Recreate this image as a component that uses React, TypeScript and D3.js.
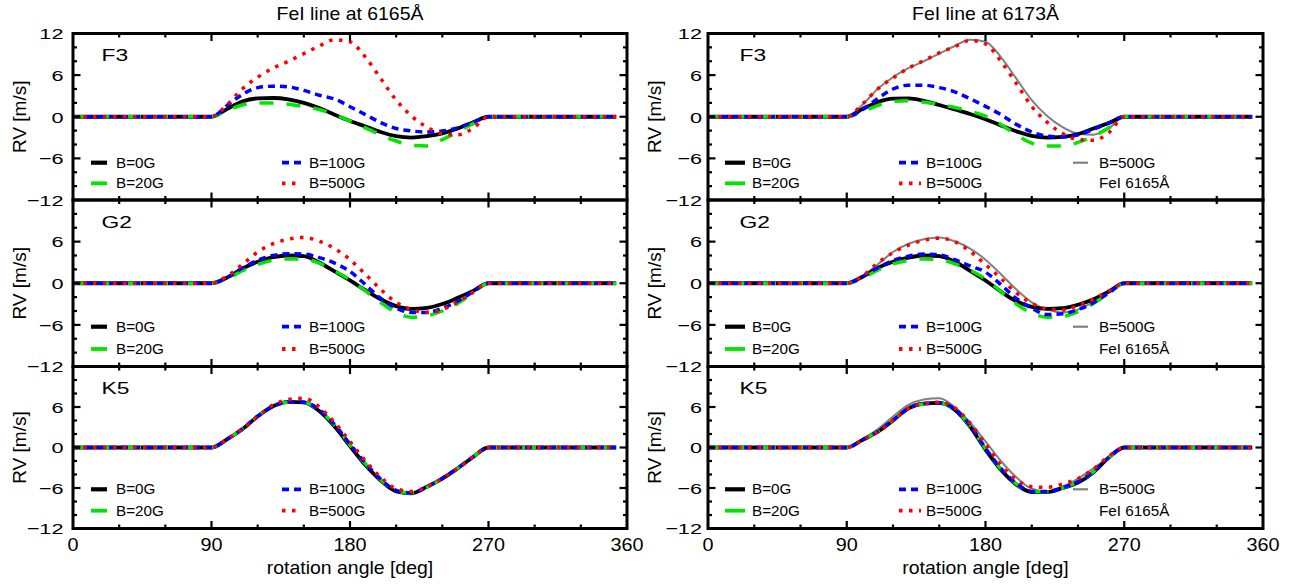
import React from 'react';
import * as d3 from 'd3';

// rotation angle [deg] sample points
const angles = [0, 90, 100, 110, 120, 130, 140, 150, 160, 170, 180, 190, 200, 210, 220, 230, 240, 250, 260, 270, 353];

// ---- FeI line at 6165 Å ----
const f3_6165_b0 = [0, 0, 1.1, 2.2, 2.65, 2.7, 2.5, 2.0, 1.25, 0.3, -0.6, -1.4, -2.2, -2.8, -3.0, -2.8, -2.4, -1.7, -0.8, 0, 0];
const f3_6165_b20 = [0, 0, 0.9, 1.7, 2.0, 2.0, 1.8, 1.45, 1.05, 0.3, -0.6, -1.6, -2.6, -3.5, -4.1, -4.2, -3.3, -2.2, -1.0, 0, 0];
const f3_6165_b100 = [0, 0, 1.6, 3.2, 4.2, 4.4, 4.3, 3.8, 3.1, 2.55, 1.45, 0.3, -0.85, -1.7, -2.05, -2.2, -2.05, -1.6, -0.8, 0, 0];
const f3_6165_b500 = [0, 0, 1.7, 4.0, 5.7, 7.0, 8.0, 9.1, 10.2, 11.1, 10.8, 8.6, 5.5, 2.4, 0.1, -1.5, -2.45, -2.6, -1.65, 0, 0];

const g2_6165_b0 = [0, 0, 0.8, 2.1, 3.1, 3.75, 4.0, 3.9, 3.0, 1.7, 0.4, -1.0, -2.3, -3.3, -3.7, -3.55, -3.0, -2.1, -1.1, 0, 0];
const g2_6165_b20 = [0, 0, 0.6, 1.8, 2.7, 3.3, 3.5, 3.5, 2.9, 1.8, 0.5, -1.1, -2.8, -4.2, -4.9, -4.7, -4.0, -2.9, -1.4, 0, 0];
const g2_6165_b100 = [0, 0, 0.8, 2.2, 3.3, 4.0, 4.25, 4.2, 3.7, 2.9, 1.7, -0.2, -2.2, -3.6, -4.2, -4.2, -3.6, -2.6, -1.2, 0, 0];
const g2_6165_b500 = [0, 0, 1.0, 2.7, 4.5, 5.7, 6.35, 6.6, 6.05, 5.0, 3.4, 1.3, -0.9, -2.75, -3.8, -4.2, -3.8, -2.7, -1.3, 0, 0];

const k5_6165_b0 = [0, 0, 1.2, 2.7, 4.6, 6.1, 6.75, 6.7, 5.4, 3.1, 0.2, -2.6, -4.9, -6.5, -6.8, -5.8, -4.6, -3.1, -1.4, 0, 0];
const k5_6165_b20 = [0, 0, 1.2, 2.75, 4.65, 6.1, 6.7, 6.65, 5.5, 3.3, 0.4, -2.4, -4.8, -6.4, -6.75, -5.9, -4.6, -3.1, -1.4, 0, 0];
const k5_6165_b100 = [0, 0, 1.2, 2.75, 4.65, 6.1, 6.75, 6.7, 5.6, 3.4, 0.5, -2.3, -4.7, -6.35, -6.7, -5.85, -4.55, -3.05, -1.4, 0, 0];
const k5_6165_b500 = [0, 0, 1.2, 2.7, 4.6, 6.3, 7.1, 7.3, 6.0, 3.7, 0.9, -2.0, -4.4, -6.1, -6.5, -5.8, -4.6, -3.1, -1.4, 0, 0];

// ---- FeI line at 6173 Å ----
const f3_6173_b0 = [0, 0, 1.1, 2.1, 2.6, 2.65, 2.3, 1.7, 1.05, 0.4, -0.35, -1.25, -2.1, -2.75, -3.0, -2.9, -2.5, -1.7, -0.9, 0, 0];
const f3_6173_b20 = [0, 0, 0.7, 1.6, 2.2, 2.3, 2.1, 1.8, 1.35, 0.8, 0.1, -1.1, -2.6, -3.8, -4.2, -4.2, -3.7, -2.8, -1.6, 0, 0];
const f3_6173_b100 = [0, 0, 1.0, 2.6, 4.0, 4.55, 4.55, 4.2, 3.6, 2.6, 1.5, 0.3, -1.1, -2.2, -2.8, -2.9, -2.6, -1.8, -0.9, 0, 0];
const f3_6173_b500 = [0, 0, 1.8, 4.0, 5.6, 7.0, 8.1, 9.2, 10.1, 11.0, 10.5, 8.0, 4.8, 1.5, -0.8, -2.4, -3.3, -3.4, -2.3, 0, 0];

const g2_6173_b0 = [0, 0, 0.9, 2.2, 3.1, 3.7, 4.0, 3.9, 3.1, 1.8, 0.4, -1.2, -2.6, -3.4, -3.7, -3.6, -3.1, -2.3, -1.2, 0, 0];
const g2_6173_b20 = [0, 0, 0.7, 1.9, 2.8, 3.3, 3.5, 3.4, 2.8, 1.9, 0.6, -1.2, -3.0, -4.3, -4.9, -4.8, -4.1, -2.9, -1.5, 0, 0];
const g2_6173_b100 = [0, 0, 0.9, 2.2, 3.3, 3.9, 4.2, 4.1, 3.4, 2.5, 1.6, -0.2, -2.2, -3.6, -4.5, -4.4, -3.8, -2.8, -1.4, 0, 0];
const g2_6173_b500 = [0, 0, 1.0, 2.9, 4.4, 5.5, 6.2, 6.5, 6.0, 4.6, 2.7, 0.7, -1.4, -2.9, -3.7, -3.85, -3.2, -2.3, -1.1, 0, 0];

const k5_6173_b0 = [0, 0, 1.1, 2.3, 4.0, 5.8, 6.5, 6.6, 5.6, 3.1, -0.3, -3.3, -5.5, -6.6, -6.6, -6.0, -5.2, -3.7, -1.5, 0, 0];
const k5_6173_b20 = [0, 0, 1.1, 2.35, 4.05, 5.8, 6.45, 6.55, 5.6, 3.2, -0.2, -3.2, -5.4, -6.55, -6.55, -6.0, -5.1, -3.6, -1.5, 0, 0];
const k5_6173_b100 = [0, 0, 1.1, 2.35, 4.05, 5.8, 6.5, 6.6, 5.7, 3.3, -0.1, -3.1, -5.3, -6.5, -6.5, -5.95, -5.05, -3.55, -1.45, 0, 0];
const k5_6173_b500 = [0, 0, 1.1, 2.3, 4.0, 5.8, 6.5, 6.7, 5.9, 3.6, 0.5, -2.6, -4.8, -5.8, -5.9, -5.4, -4.6, -3.2, -1.3, 0, 0];

const columnTitles = ['FeI line at 6165Å', 'FeI line at 6173Å'];
const starTypes = ['F3', 'G2', 'K5'];
const xTickLabels = [0, 90, 180, 270, 360];
const yTickLabels = [-12, -6, 0, 6, 12];
const seriesNames = ['B=0G', 'B=20G', 'B=100G', 'B=500G'];
const referenceNames = ['B=500G', 'FeI 6165Å'];

const data6165 = [
  [f3_6165_b0, f3_6165_b20, f3_6165_b100, f3_6165_b500],
  [g2_6165_b0, g2_6165_b20, g2_6165_b100, g2_6165_b500],
  [k5_6165_b0, k5_6165_b20, k5_6165_b100, k5_6165_b500],
];
const data6173 = [
  [f3_6173_b0, f3_6173_b20, f3_6173_b100, f3_6173_b500],
  [g2_6173_b0, g2_6173_b20, g2_6173_b100, g2_6173_b500],
  [k5_6173_b0, k5_6173_b20, k5_6173_b100, k5_6173_b500],
];

// ---- styling / layout ----
const FONT = '"Liberation Sans", Arial, Helvetica, sans-serif';
const styles = [
  { color: '#000000', width: 3.8, dash: undefined as string | undefined },
  { color: '#00e600', width: 3.5, dash: '14 13' },
  { color: '#0000ff', width: 3.5, dash: '7 5' },
  { color: '#ff0000', width: 3.5, dash: '3.5 6.5' },
];
const grayStyle = { color: '#808080', width: 2 };

const cols = [
  { x0: 73, x1: 627, labelGap: 9.5, legend: [{ s0: 18, s1: 34, t: 43 }, { s0: 209, s1: 229, t: 236 }] },
  { x0: 708, x1: 1263, labelGap: 6, legend: [{ s0: 17, s1: 37, t: 44 }, { s0: 191, s1: 213, t: 218 }, { s0: 365, s1: 380, t: 391 }] },
];
const rows = [
  { top: 33.5, bottom: 200, leg: [162.7, 183.3] },
  { top: 200, bottom: 366.5, leg: [326.7, 349] },
  { top: 366.5, bottom: 528.5, leg: [489.3, 510.7] },
];

function Txt(props: { x: number; y: number; size: number; sx?: number; anchor?: string; rotate?: number; children: React.ReactNode }) {
  const { x, y, size, sx = 1, anchor = 'start', rotate = 0, children } = props;
  return (
    <text
      transform={`translate(${x},${y})${rotate ? ` rotate(${rotate})` : ''} scale(${sx},1)`}
      fontSize={size}
      fontFamily={FONT}
      fontWeight="normal"
      textAnchor={anchor}
      fill="#000"
    >
      {children}
    </text>
  );
}

const fmt = (v: number) => (v < 0 ? '\u2212' + Math.abs(v) : String(v));

function Panel({ c, r }: { c: number; r: number }) {
  const col = cols[c];
  const row = rows[r];
  const x = d3.scaleLinear().domain([0, 360]).range([col.x0, col.x1]);
  const y = d3.scaleLinear().domain([-12, 12]).range([row.bottom, row.top]);
  const line = d3
    .line<number>()
    .x((_d, i) => x(angles[i]))
    .y((d) => y(d))
    .curve(d3.curveMonotoneX);
  const series = c === 0 ? data6165[r] : data6173[r];
  const gray = c === 1 ? data6165[r][3] : null;

  const majorLen = 7.5;
  const minorLen = 4;
  const xt = d3.range(0, 361, 30);
  const yt = d3.range(-12, 13, 2);

  const legendItems: { col: number; row: number; kind: number | 'gray' | 'none'; label: string }[] = [
    { col: 0, row: 0, kind: 0, label: seriesNames[0] },
    { col: 0, row: 1, kind: 1, label: seriesNames[1] },
    { col: 1, row: 0, kind: 2, label: seriesNames[2] },
    { col: 1, row: 1, kind: 3, label: seriesNames[3] },
  ];
  if (c === 1) {
    legendItems.push({ col: 2, row: 0, kind: 'gray', label: referenceNames[0] });
    legendItems.push({ col: 2, row: 1, kind: 'none', label: referenceNames[1] });
  }

  return (
    <g>
      {/* curves */}
      {gray && <path d={line(gray) || ''} fill="none" stroke={grayStyle.color} strokeWidth={grayStyle.width} />}
      {series.map((s, i) => (
        <path
          key={i}
          d={line(s) || ''}
          fill="none"
          stroke={styles[i].color}
          strokeWidth={styles[i].width}
          strokeDasharray={styles[i].dash}
          strokeLinejoin="round"
        />
      ))}

      {/* frame */}
      <rect x={col.x0} y={row.top} width={col.x1 - col.x0} height={row.bottom - row.top} fill="none" stroke="#000" strokeWidth={3} />

      {/* x ticks */}
      {xt.map((t) => {
        const len = t % 90 === 0 ? majorLen : minorLen;
        if (t === 0 || t === 360) return null;
        return (
          <g key={'x' + t}>
            <line x1={x(t)} x2={x(t)} y1={row.bottom} y2={row.bottom - len} stroke="#000" strokeWidth={2.2} />
            <line x1={x(t)} x2={x(t)} y1={row.top} y2={row.top + len} stroke="#000" strokeWidth={2.2} />
          </g>
        );
      })}
      {/* y ticks */}
      {yt.map((t) => {
        const len = t % 6 === 0 ? majorLen : minorLen;
        if (t === -12 || t === 12) return null;
        return (
          <g key={'y' + t}>
            <line x1={col.x0} x2={col.x0 + len} y1={y(t)} y2={y(t)} stroke="#000" strokeWidth={2.2} />
            <line x1={col.x1} x2={col.x1 - len} y1={y(t)} y2={y(t)} stroke="#000" strokeWidth={2.2} />
          </g>
        );
      })}

      {/* y tick labels */}
      {yTickLabels
        .filter((t) => !(t === 12 && r > 0))
        .map((t) => (
          <Txt key={'yl' + t} x={col.x0 - col.labelGap} y={y(t) + 5.8} size={15.5} sx={1.4} anchor="end">
            {fmt(t)}
          </Txt>
        ))}

      {/* x tick labels */}
      {r === 2 &&
        xTickLabels.map((t) => (
          <Txt key={'xl' + t} x={x(t)} y={550.7} size={18} sx={1.1} anchor="middle">
            {fmt(t)}
          </Txt>
        ))}

      {/* y axis title */}
      <Txt x={col.x0 - 47} y={(row.top + row.bottom) / 2} size={18} sx={1.06} anchor="middle" rotate={-90}>
        RV [m/s]
      </Txt>

      {/* star type */}
      <Txt x={col.x0 + (c === 0 ? 28.5 : 31.5)} y={row.top + 27.8} size={16.3} sx={1.4}>
        {starTypes[r]}
      </Txt>

      {/* legend */}
      {legendItems.map((it, i) => {
        const lc = col.legend[it.col];
        const ly = row.leg[it.row];
        let sample: React.ReactNode = null;
        const sx0 = col.x0 + lc.s0;
        const sx1 = col.x0 + lc.s1;
        if (it.kind === 'gray') {
          sample = <line x1={sx0} x2={sx1} y1={ly} y2={ly} stroke={grayStyle.color} strokeWidth={2.2} />;
        } else if (typeof it.kind === 'number') {
          const st = styles[it.kind];
          const dash = it.kind === 1 ? undefined : st.dash;
          sample = (
            <line x1={sx0} x2={sx1} y1={ly} y2={ly} stroke={st.color} strokeWidth={it.kind === 0 ? 4.2 : 3.8} strokeDasharray={dash} />
          );
        }
        return (
          <g key={'lg' + i}>
            {sample}
            <Txt x={col.x0 + lc.t} y={ly + 5} size={14} sx={1.09}>
              {it.label}
            </Txt>
          </g>
        );
      })}
    </g>
  );
}

export default function App() {
  return (
    <svg
      width={1301}
      height={585}
      viewBox="0 0 1301 585"
      style={{ position: 'absolute', left: 0, top: 0, background: '#fff' }}
    >
      <rect x={0} y={0} width={1301} height={585} fill="#fff" />
      {cols.map((col, c) => (
        <g key={c}>
          <Txt x={(col.x0 + col.x1) / 2} y={20} size={18} sx={1.08} anchor="middle">
            {columnTitles[c]}
          </Txt>
          <Txt x={(col.x0 + col.x1) / 2} y={574} size={18} sx={1.08} anchor="middle">
            rotation angle [deg]
          </Txt>
          {rows.map((_row, r) => (
            <Panel key={r} c={c} r={r} />
          ))}
        </g>
      ))}
    </svg>
  );
}
